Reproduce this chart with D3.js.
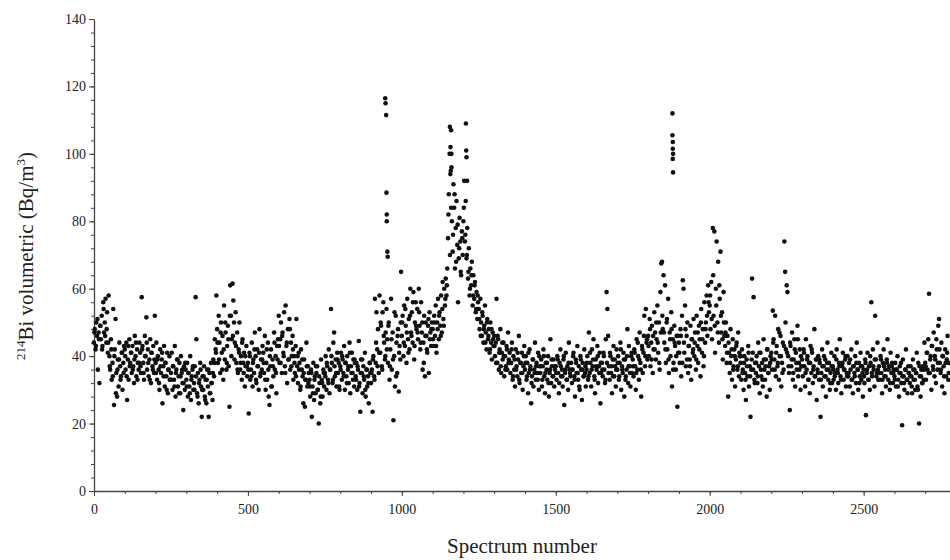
<!DOCTYPE html>
<html lang="en">
<head>
<meta charset="utf-8">
<title>214Bi volumetric vs spectrum number</title>
<script src="https://cdn.jsdelivr.net/npm/d3@7"></script>
<style>
  body { margin: 0; background: #fff; }
  svg text { font-family: "Liberation Serif", "Times New Roman", serif; fill: #222; }
</style>
</head>
<body>
<div id="chart"></div>
<script>
// one reading every 2.5 spectra
const step = 2.5;
const blockStart = [0, 500, 1000, 1500, 2000, 2500];

const block0 = [
  44, 48, 42, 50, 46, 36, 47, 32, 49, 45, 52, 43, 56, 47, 50, 57, 44, 53, 41, 58,
  40, 36, 45, 33, 38, 54, 25.5, 42, 51, 35, 28, 39, 31, 44, 37, 34, 41, 30, 38, 43,
  42, 36, 44, 27, 39, 33, 45, 38, 41, 35, 43, 37, 32, 46, 40, 34, 42, 38, 36, 44,
  41, 35, 57.5, 43, 38, 33, 46, 40, 51.5, 36, 42, 34, 39, 45, 32, 41, 37, 43, 35, 52,
  38, 44, 33, 40, 36, 30, 42, 35, 39, 26, 37, 43, 31, 38, 34, 41, 29, 36, 40, 33,
  35, 41, 30, 37, 33, 43, 28, 36, 39, 31, 34, 38, 29, 40, 35, 32, 24, 37, 30, 36,
  33, 38, 28, 35, 31, 40, 27, 34, 36, 30, 32, 37, 57.5, 45, 29, 35, 26, 33, 38, 31,
  22, 34, 30, 37, 28, 33, 26, 36, 31, 22, 35, 29, 38, 32, 27, 39, 34, 45, 42, 58,
  48, 38, 52, 44, 35, 50, 41, 46, 33, 55, 39, 47, 36, 43, 49, 37, 25, 61, 52, 45,
  61.5, 56.5, 50, 44, 53, 38, 47, 35, 42, 50, 36, 40, 33, 45, 38, 41, 31, 37, 43, 34
];

const block500 = [
  38, 23, 41, 33, 36, 44, 31, 39, 35, 47, 40, 32, 42, 37, 30, 48, 34, 39, 36, 43,
  41, 35, 46, 30, 38, 33, 44, 28, 25.5, 37, 42, 31, 39, 34, 47, 36, 40, 29, 43, 45,
  52, 38, 45, 50, 35, 47, 41, 53, 37, 55, 43, 32, 48, 39, 51, 36, 44, 40, 46, 33,
  40, 35, 43, 51, 37, 32, 41, 38, 30, 42, 36, 34, 26, 39, 25, 33, 44, 31, 37, 35,
  33, 28, 36, 22, 31, 38, 27, 34, 29, 35, 37, 30, 20, 32, 26, 39, 33, 28, 36, 31,
  35, 40, 30, 37, 33, 42, 29, 36, 54, 38, 32, 44, 47, 34, 39, 31, 41, 35, 38, 30,
  37, 41, 33, 39, 35, 43, 30, 38, 34, 40, 36, 32, 44, 29, 37, 41, 35, 39, 31, 38,
  34, 38, 30, 36, 44.5, 32, 23.5, 39, 35, 29, 37, 33, 41, 28, 36, 31, 34, 26, 38, 35,
  32, 36, 23.5, 40, 34, 57, 38, 53, 42, 48, 35, 58, 41, 49, 37, 53, 56, 44, 39, 47,
  54, 45, 38, 50, 33, 42, 57, 36, 47, 21, 40, 31, 52, 44, 35, 48, 29.5, 43, 39, 65
];

const block1000 = [
  46, 52, 40, 55, 43, 49, 38, 57, 45, 51, 42, 60, 47, 53, 44, 59, 39, 50, 56, 48,
  54, 45, 60, 49, 42, 56, 47, 36, 44, 52, 34, 50, 46, 41, 49, 35, 53, 47, 43, 50,
  48, 43, 52, 46, 55, 41, 50, 57, 45, 53, 49, 58, 47, 62, 51, 60, 55, 63, 58, 66,
  75, 88, 100, 94, 84, 80, 71, 91, 84, 66, 78, 86, 73, 56, 69, 81, 74, 64, 77, 70,
  80, 92, 74, 86, 69, 78, 63, 72, 58, 66, 61, 68, 55, 64, 57, 62, 53, 59, 51, 56,
  54, 48, 57, 50, 46, 52, 44, 49, 55, 47, 42, 51, 45, 48, 41, 50, 44, 39, 47, 43,
  46, 40, 44, 57, 38, 45, 36, 42, 48, 35, 41, 39, 44, 34, 40, 37, 43, 36, 47, 39,
  41, 35, 38, 44, 33, 40, 36, 31, 42, 37, 34, 39, 46, 32, 38, 35, 41, 30, 37, 43,
  36, 40, 33, 38, 29, 35, 42, 37, 26, 34, 39, 31, 36, 44, 33, 38, 35, 41, 30, 37,
  35, 39, 31, 37, 42, 34, 29, 38, 36, 33, 40, 28, 35, 45, 32, 37, 34, 39, 31, 36
];

const block1500 = [
  37, 33, 40, 35, 29, 38, 42, 34, 36, 31, 39, 25.5, 35, 41, 33, 37, 30, 44, 36, 34,
  38, 32, 36, 41, 34, 28, 39, 35, 43, 33, 37, 30, 40, 36, 27, 38, 34, 42, 35, 31,
  36, 40, 33, 47, 35, 38, 31, 42, 37, 45, 34, 29, 39, 36, 43, 32, 37, 41, 26, 35,
  38, 34, 41, 36, 32, 45, 59, 54, 46, 37, 33, 40, 35, 29, 39, 43, 34, 37, 31, 42,
  36, 40, 33, 38, 44, 30, 37, 35, 41, 28, 39, 34, 36, 48, 32, 43, 37, 31, 40, 35,
  39, 34, 42, 37, 30, 45, 36, 40, 33, 47, 38, 28, 43, 35, 41, 52, 37, 54, 44, 39,
  46, 40, 51, 37, 44, 49, 35, 42, 53, 47, 39, 45, 55, 41, 50, 36, 59, 67.5, 68, 48,
  64, 44, 61, 38, 50, 42, 57, 35, 47, 40, 53, 31, 45, 38, 49, 43, 36, 46, 25, 41,
  44, 38, 48, 34, 52, 62.5, 60, 41, 55, 37, 46, 50, 35, 43, 39, 49, 33, 45, 41, 51,
  40, 47, 36, 52, 43, 38, 49, 45, 34, 54, 41, 48, 37, 56, 44, 50, 58, 46, 61, 53
];

const block2000 = [
  55, 48, 62, 45, 78, 52, 77, 41, 60, 74, 50, 68, 44, 57, 71, 47, 53, 39, 59, 46,
  43, 50, 38, 46, 28, 41, 35, 48, 40, 33, 45, 37, 42, 31, 39, 44, 36, 47, 34, 40,
  38, 33, 42, 36, 30, 40, 35, 27, 39, 34, 43, 31, 37, 22, 36, 63, 41, 57.5, 33, 38,
  35, 40, 32, 44, 37, 29, 41, 34, 38, 31, 45, 36, 33, 39, 28, 42, 35, 37, 30, 40,
  41, 36, 53.5, 45, 39, 52, 34, 43, 37, 48, 33, 40, 46, 31, 38, 44, 36, 74, 65, 42,
  61, 59, 40, 35, 24, 43, 37, 47, 33, 39, 45, 31, 41, 36, 49, 34, 38, 42, 30, 37,
  39, 34, 42, 37, 31, 45, 36, 40, 33, 38, 29, 43, 35, 41, 32, 37, 48, 34, 39, 27,
  36, 40, 33, 38, 22, 35, 42, 31, 37, 34, 39, 28, 36, 44, 33, 38, 30, 35, 41, 32,
  37, 33, 40, 35, 30, 42, 36, 32, 38, 45, 34, 29, 37, 41, 33, 36, 39, 31, 35, 40,
  34, 38, 31, 36, 42, 33, 29, 37, 35, 40, 32, 44, 36, 30, 38, 34, 41, 33, 37, 28
];

const block2500 = [
  36, 32, 39, 22.5, 35, 41, 33, 37, 30, 38, 56, 34, 42, 36, 31, 52, 39, 35, 44, 33,
  37, 33, 40, 35, 29, 38, 42, 34, 36, 31, 39, 45, 33, 37, 30, 41, 35, 38, 32, 36,
  34, 38, 31, 36, 40, 33, 28, 37, 35, 32, 19.5, 39, 34, 30, 36, 42, 33, 29, 37, 35,
  32, 37, 34, 29, 39, 33, 36, 30, 35, 41, 31, 38, 20, 34, 28, 36, 32, 37, 33, 44,
  38, 33, 41, 36, 45, 58.5, 35, 40, 30, 43, 37, 47, 34, 39, 32, 42, 36, 49, 51, 38,
  35, 44, 31, 40, 37, 29, 42, 34, 39, 46, 33, 38
];

// second pass through the dense band: one reading every 5 spectra, offset 1.25
const stepB = 5;
const offsetB = 1.25;

const fill0 = [
  47, 43, 51, 45, 49, 42, 54, 46, 48, 44,
  37, 42, 34, 40, 29, 36, 39, 33, 41, 35,
  40, 34, 43, 37, 41, 36, 39, 44, 33, 38,
  37, 42, 35, 40, 44, 38, 33, 41, 36, 39,
  35, 39, 32, 37, 41, 34, 38, 30, 36, 33,
  33, 37, 31, 35, 39, 29, 34, 36, 32, 38,
  31, 35, 29, 33, 37, 30, 34, 28, 32, 36,
  30, 34, 27, 33, 36, 29, 32, 35, 38, 41,
  44, 39, 47, 36, 42, 50, 38, 45, 52, 40,
  46, 39, 43, 36, 41, 38, 44, 35, 40, 37
];

const fill500 = [
  36, 40, 34, 38, 42, 33, 37, 41, 35, 39,
  38, 33, 42, 36, 40, 31, 37, 44, 35, 39,
  43, 38, 46, 40, 35, 44, 39, 48, 37, 42,
  38, 34, 40, 36, 31, 39, 35, 33, 37, 32,
  31, 35, 29, 33, 37, 30, 34, 28, 32, 35,
  34, 38, 32, 36, 40, 33, 37, 35, 39, 31,
  36, 40, 34, 38, 32, 37, 41, 35, 33, 39,
  33, 37, 31, 35, 39, 34, 30, 36, 32, 38,
  35, 39, 33, 44, 37, 41, 50, 36, 46, 40,
  42, 49, 37, 45, 39, 53, 34, 46, 41, 50
];

const fill1000 = [
  50, 44, 54, 47, 41, 52, 46, 56, 43, 49,
  47, 53, 44, 50, 38, 46, 42, 51, 45, 48,
  45, 50, 43, 48, 52, 46, 54, 49, 57, 61,
  82, 70, 96, 76, 88, 68, 79, 72, 65, 75,
  84, 76, 70, 65, 60, 64, 58, 61, 54, 58,
  51, 46, 53, 48, 44, 50, 46, 42, 48, 45,
  43, 38, 46, 41, 37, 44, 40, 36, 42, 38,
  38, 42, 34, 39, 36, 41, 33, 38, 35, 40,
  38, 34, 41, 36, 32, 39, 35, 37, 33, 40,
  37, 33, 40, 35, 38, 32, 36, 39, 34, 37
];

const fill1500 = [
  35, 39, 32, 37, 34, 40, 36, 33, 38, 35,
  36, 40, 33, 38, 35, 31, 39, 36, 34, 37,
  38, 34, 41, 36, 39, 33, 37, 40, 35, 38,
  36, 40, 33, 38, 35, 41, 37, 34, 39, 36,
  38, 34, 42, 36, 39, 33, 40, 37, 35, 41,
  37, 41, 35, 44, 39, 36, 42, 46, 40, 45,
  43, 48, 39, 46, 42, 50, 44, 38, 47, 52,
  47, 42, 51, 39, 45, 48, 36, 44, 40, 46,
  41, 46, 38, 44, 48, 39, 43, 37, 45, 42,
  44, 39, 47, 42, 50, 45, 40, 48, 52, 56
];

const fill2000 = [
  58, 51, 64, 49, 55, 47, 61, 52, 45, 50,
  47, 41, 44, 38, 42, 36, 40, 43, 37, 41,
  40, 35, 38, 33, 37, 41, 34, 39, 36, 32,
  38, 34, 41, 36, 33, 39, 37, 42, 35, 38,
  39, 44, 36, 41, 38, 47, 40, 35, 43, 50,
  41, 37, 44, 39, 35, 42, 38, 45, 36, 40,
  37, 41, 35, 39, 33, 38, 42, 36, 34, 39,
  35, 39, 33, 37, 40, 34, 38, 36, 32, 37,
  36, 34, 39, 35, 37, 33, 38, 36, 40, 34,
  35, 39, 33, 37, 34, 38, 36, 32, 37, 35
];

const fill2500 = [
  34, 38, 36, 33, 40, 35, 37, 39, 34, 36,
  35, 39, 33, 37, 34, 38, 36, 32, 37, 35,
  33, 36, 31, 35, 38, 34, 32, 36, 33, 35,
  34, 31, 36, 33, 35, 30, 37, 34, 32, 36,
  37, 41, 35, 39, 43, 36, 40, 45, 38, 42,
  36, 40, 34, 38, 41, 35
];

// isolated high readings: [spectrum, Bq/m3]
const spikes = [
  [946, 116.5], [947, 115], [949, 111.5], [950, 88.5], [951, 82], [951, 80],
  [953, 71], [954, 69.5],
  [1156, 108], [1160, 107], [1158, 102], [1161, 100], [1159, 95],
  [1208, 109], [1209, 101], [1210, 99], [1212, 92],
  [1879, 112], [1879, 105.5], [1880, 103.5], [1880, 101.5], [1881, 100], [1880, 98.5], [1881, 94.5]
];

const xTicks = [0, 500, 1000, 1500, 2000, 2500];
const yTicks = [0, 20, 40, 60, 80, 100, 120, 140];

const w = 950;
const h = 560;

const blocks = [block0, block500, block1000, block1500, block2000, block2500];
const fills = [fill0, fill500, fill1000, fill1500, fill2000, fill2500];
const points = blocks
  .flatMap((b, k) => b.map((v, i) => ({ x: blockStart[k] + i * step, y: v })))
  .concat(fills.flatMap((b, k) => b.map((v, i) => ({ x: blockStart[k] + offsetB + i * stepB, y: v }))))
  .concat(spikes.map(d => ({ x: d[0], y: d[1] })));

const xScale = d3.scaleLinear().domain([0, 2800]).range([94, 956]);
const yScale = d3.scaleLinear().domain([0, 140]).range([491, 19]);

const svg = d3.select("#chart")
  .append("svg")
  .attr("width", w)
  .attr("height", h);

// minor ticks first so the major ones sit on top
svg.append("g")
  .attr("transform", "translate(0,491)")
  .call(d3.axisBottom(xScale).tickValues(d3.range(0, 2800, 100)).tickSize(3).tickFormat(""))
  .call(g => g.select(".domain").remove());

svg.append("g")
  .attr("transform", "translate(94,0)")
  .call(d3.axisLeft(yScale).tickValues(d3.range(0, 141, 4)).tickSize(3).tickFormat(""))
  .call(g => g.select(".domain").remove());

svg.append("g")
  .attr("class", "x axis")
  .attr("transform", "translate(0,491)")
  .call(d3.axisBottom(xScale).tickValues(xTicks).tickFormat(d3.format("d"))
    .tickSize(5).tickSizeOuter(0).tickPadding(8));

svg.append("g")
  .attr("class", "y axis")
  .attr("transform", "translate(94,0)")
  .call(d3.axisLeft(yScale).tickValues(yTicks).tickFormat(d3.format("d"))
    .tickSize(5).tickSizeOuter(0).tickPadding(3));

svg.selectAll(".axis text")
  .style("font-family", "'Liberation Serif', serif")
  .style("font-size", "14px")
  .attr("fill", "#222");
svg.selectAll(".tick line").attr("stroke", "#444");
svg.selectAll(".domain").attr("stroke", "#444").attr("stroke-width", 1.3);

svg.append("g")
  .attr("class", "dots")
  .selectAll("circle")
  .data(points)
  .enter()
  .append("circle")
  .attr("cx", d => xScale(d.x))
  .attr("cy", d => yScale(d.y))
  .attr("r", 2.3)
  .attr("fill", "#111");

svg.append("text")
  .attr("x", 522)
  .attr("y", 553)
  .attr("text-anchor", "middle")
  .style("font-size", "21px")
  .text("Spectrum number");

const yl = svg.append("text")
  .attr("transform", "translate(33,256) rotate(-90)")
  .attr("text-anchor", "middle")
  .style("font-size", "21px");
yl.append("tspan").attr("dy", -8).style("font-size", "13px").text("214");
yl.append("tspan").attr("dy", 8).text("Bi volumetric (Bq/m");
yl.append("tspan").attr("dy", -8).style("font-size", "13px").text("3");
yl.append("tspan").attr("dy", 8).text(")");
</script>
</body>
</html>
